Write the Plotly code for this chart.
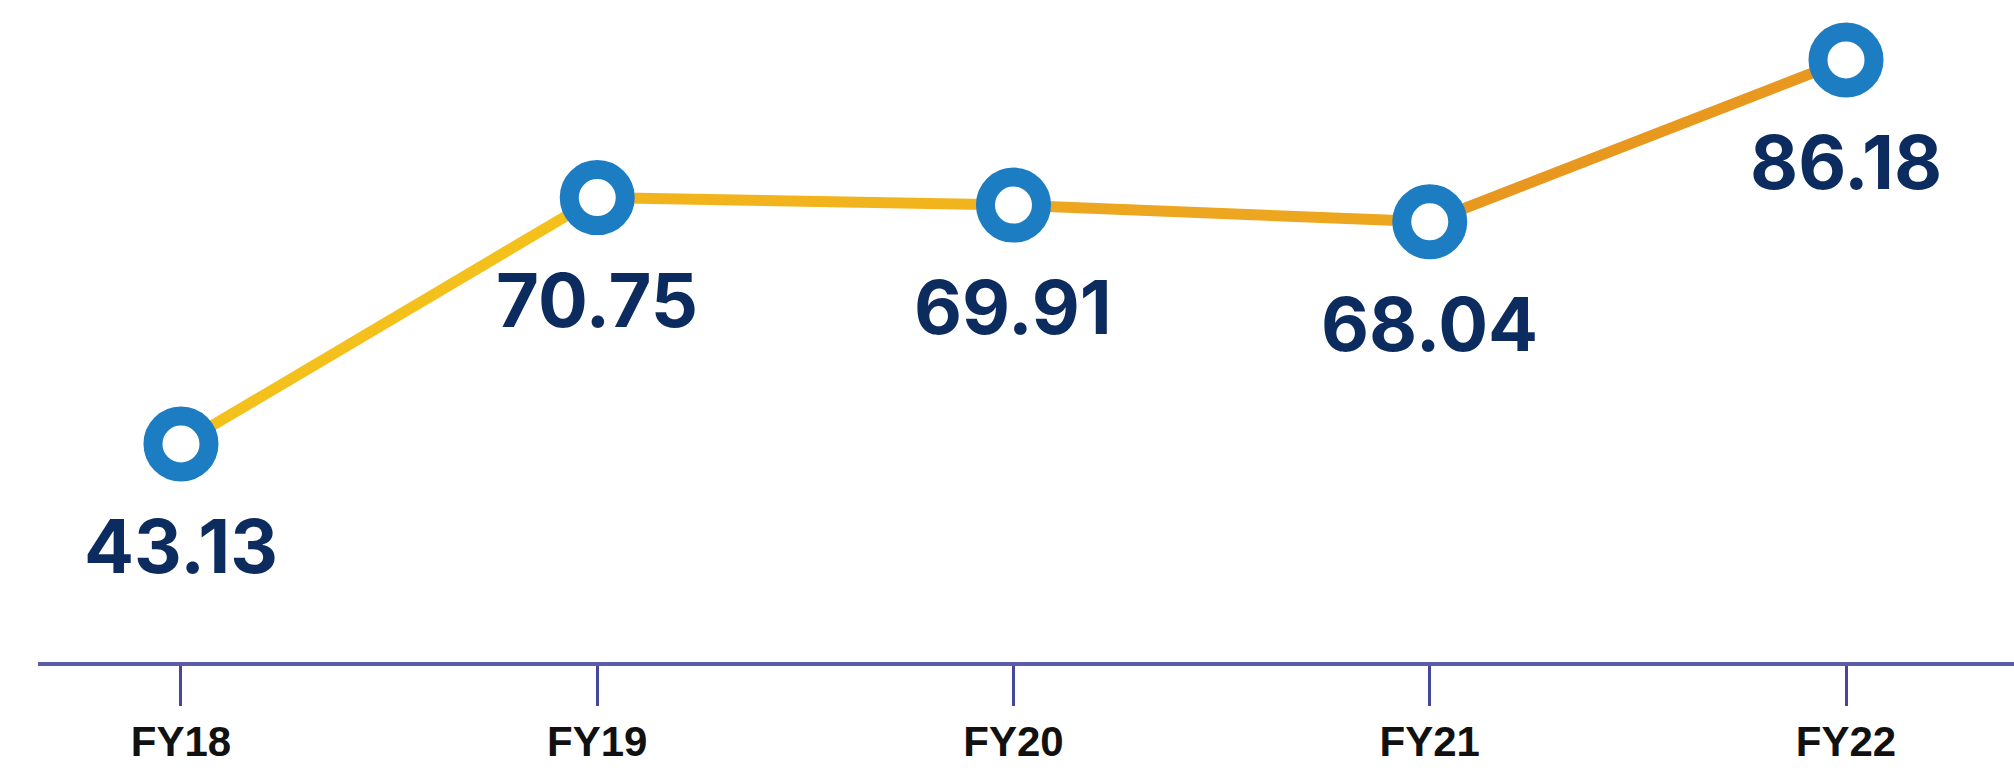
import plotly.graph_objects as go

categories = ["FY18", "FY19", "FY20", "FY21", "FY22"]
values = [43.13, 70.75, 69.91, 68.04, 86.18]
value_labels = ["43.13", "70.75", "69.91", "68.04", "86.18"]
segment_colors = ["#f4c11c", "#f1b41d", "#eca61f", "#e8981f"]

fig = go.Figure()

# line segments with a yellow-to-orange progression
for i in range(len(categories) - 1):
    fig.add_trace(go.Scatter(
        x=categories[i:i + 2], y=values[i:i + 2], mode="lines",
        line=dict(color=segment_colors[i], width=11),
        hoverinfo="skip", showlegend=False, cliponaxis=False,
    ))

# ring markers
fig.add_trace(go.Scatter(
    x=categories, y=values, mode="markers",
    marker=dict(symbol="circle", size=56, color="white",
                line=dict(color="#1d7dc3", width=19)),
    showlegend=False, cliponaxis=False, hoverinfo="skip",
))

for c, v, t in zip(categories, values, value_labels):
    fig.add_annotation(
        x=c, y=v, text=t, showarrow=False, yshift=-102, yanchor="middle",
        font=dict(family="Inter", size=74, color="#0c2c5f", weight="bold"),
    )

fig.update_layout(
    width=2014, height=771,
    margin=dict(l=38, r=0, t=0, b=109, autoexpand=False),
    paper_bgcolor="white", plot_bgcolor="white",
    xaxis=dict(
        type="category", categoryorder="array", categoryarray=categories,
        range=[-0.3435, 4.4036], showgrid=False, zeroline=False, automargin=False,
        showline=True, linecolor="#5b5da9", linewidth=4,
        ticks="outside", ticklen=40, tickwidth=3, tickcolor="#45479a",
        ticklabelstandoff=0,
        tickfont=dict(family="Liberation Sans", size=42, color="#111111", weight="bold"),
    ),
    yaxis=dict(range=[18.7, 92.9], visible=False, showgrid=False, zeroline=False,
               automargin=False),
)

fig.write_html("out.html", config={"displayModeBar": False},
               post_script="document.body.style.margin='0px';")
